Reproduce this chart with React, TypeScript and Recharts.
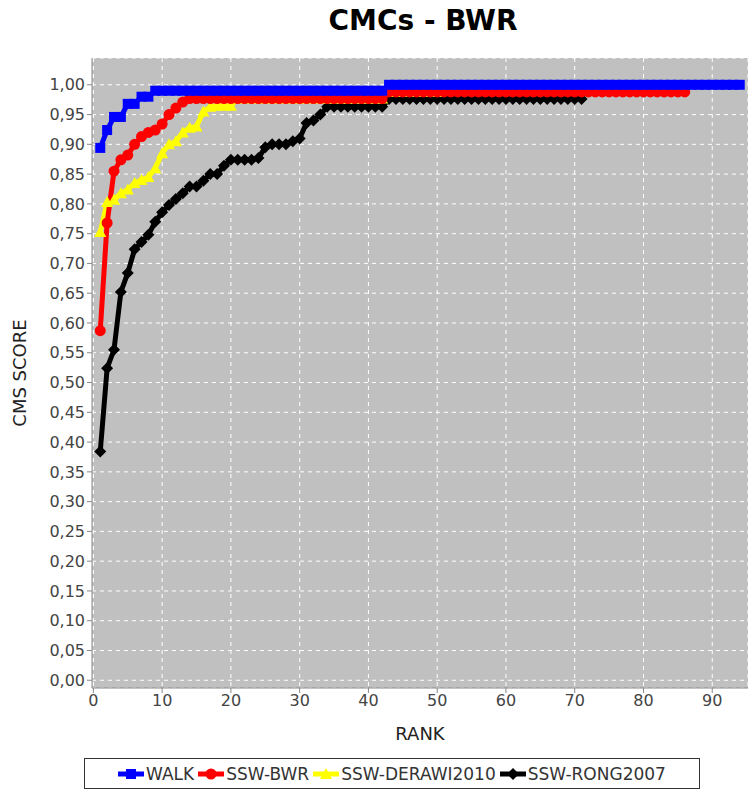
import React from 'react'
import { LineChart, Line, XAxis, YAxis, CartesianGrid } from 'recharts'

// CMC scores per rank
const walkScores = [
  0.894, 0.924, 0.946, 0.946, 0.968, 0.968, 0.98, 0.98,
  0.99, 0.99, 0.99, 0.99, 0.99, 0.99, 0.99, 0.99, 0.99, 0.99, 0.99, 0.99, 0.99, 0.99, 0.99, 0.99, 0.99,
  0.99, 0.99, 0.99, 0.99, 0.99, 0.99, 0.99, 0.99, 0.99, 0.99, 0.99, 0.99, 0.99, 0.99, 0.99, 0.99, 0.99,
  1, 1, 1, 1, 1, 1, 1, 1, 1, 1, 1, 1, 1, 1, 1, 1, 1, 1, 1, 1, 1, 1, 1, 1, 1, 1,
  1, 1, 1, 1, 1, 1, 1, 1, 1, 1, 1, 1, 1, 1, 1, 1, 1, 1, 1, 1, 1, 1, 1, 1, 1, 1,
]

const bwrScores = [
  0.587, 0.768, 0.855, 0.874, 0.882, 0.9, 0.913, 0.92, 0.924, 0.934, 0.95, 0.961, 0.971, 0.977,
  0.977, 0.977, 0.977, 0.977, 0.977, 0.977, 0.977, 0.977, 0.977, 0.977, 0.977, 0.977, 0.977, 0.977,
  0.977, 0.977, 0.977, 0.977, 0.977, 0.977, 0.977, 0.977, 0.977, 0.977, 0.977, 0.977, 0.977, 0.977,
  0.988, 0.988, 0.988, 0.988, 0.988, 0.988, 0.988, 0.988, 0.988, 0.988, 0.988, 0.988, 0.988, 0.988,
  0.988, 0.988, 0.988, 0.988, 0.988, 0.988, 0.988, 0.988, 0.988, 0.988, 0.988, 0.988, 0.988, 0.988,
  0.988, 0.988, 0.988, 0.988, 0.988, 0.988, 0.988, 0.988, 0.988, 0.988, 0.988, 0.988, 0.988, 0.988,
  0.988, 0.988,
]

const derawiScores = [
  0.753, 0.803, 0.807, 0.818, 0.824, 0.835, 0.84, 0.845, 0.86, 0.885,
  0.9, 0.905, 0.92, 0.928, 0.93, 0.955, 0.963, 0.965, 0.965, 0.965,
  0.977, 0.977, 0.977, 0.977, 0.977, 0.977, 0.977, 0.977, 0.977, 0.977, 0.977,
  0.977, 0.977, 0.977, 0.977, 0.977, 0.977, 0.977, 0.977, 0.977, 0.977, 0.977,
  0.988, 0.988, 0.988, 0.988, 0.988, 0.988, 0.988, 0.988,
]

const rongScores = [
  0.384, 0.524, 0.555, 0.652, 0.684, 0.724, 0.736, 0.748, 0.77, 0.786,
  0.798, 0.808, 0.818, 0.829, 0.829, 0.839, 0.85, 0.85, 0.864, 0.874,
  0.874, 0.874, 0.874, 0.877, 0.895, 0.9, 0.9, 0.9, 0.905, 0.91,
  0.936, 0.94, 0.95, 0.963, 0.963, 0.963, 0.963, 0.963, 0.963, 0.963, 0.963, 0.963,
  0.976, 0.976, 0.976, 0.976, 0.976, 0.976, 0.976, 0.976, 0.976, 0.976,
  0.976, 0.976, 0.976, 0.976, 0.976, 0.976, 0.976, 0.976, 0.976, 0.976,
  0.976, 0.976, 0.976, 0.976, 0.976, 0.976, 0.976, 0.976, 0.976,
]

const xTicks = [0, 10, 20, 30, 40, 50, 60, 70, 80, 90]
const yTicks = [
  0, 0.05, 0.1, 0.15, 0.2, 0.25, 0.3, 0.35, 0.4, 0.45, 0.5,
  0.55, 0.6, 0.65, 0.7, 0.75, 0.8, 0.85, 0.9, 0.95, 1,
]

const toRows = (scores: number[]) => scores.map((score, i) => ({ rank: i + 1, score }))

const FONT = '"DejaVu Sans", Verdana, sans-serif'

type Shape = 'square' | 'circle' | 'triangle' | 'diamond'

const marker = (shape: Shape, x: number, y: number, color: string, key?: string) => {
  if (shape === 'square') return <rect key={key} x={x - 5} y={y - 5} width={10} height={10} fill={color} />
  if (shape === 'circle') return <circle key={key} cx={x} cy={y} r={5.5} fill={color} />
  if (shape === 'triangle')
    return <polygon key={key} points={`${x},${y - 6} ${x + 6},${y + 5} ${x - 6},${y + 5}`} fill={color} />
  return <polygon key={key} points={`${x},${y - 6} ${x + 6},${y} ${x},${y + 6} ${x - 6},${y}`} fill={color} />
}

const dotFor = (shape: Shape, color: string) => (props: any) => {
  const { cx, cy, index } = props
  return marker(shape, cx, cy, color, `${shape}-${index}`)
}

const series = [
  { name: 'WALK', color: '#0000ff', shape: 'square' as Shape, data: toRows(walkScores) },
  { name: 'SSW-BWR', color: '#ff0000', shape: 'circle' as Shape, data: toRows(bwrScores) },
  { name: 'SSW-DERAWI2010', color: '#ffff00', shape: 'triangle' as Shape, data: toRows(derawiScores) },
  { name: 'SSW-RONG2007', color: '#000000', shape: 'diamond' as Shape, data: toRows(rongScores) },
]

const YLabel = (props: any) => {
  const { viewBox } = props
  const cy = viewBox.y + viewBox.height / 2
  return (
    <text x={19} y={cy} transform={`rotate(-90, 19, ${cy})`} textAnchor="middle" dominantBaseline="central"
      fontSize={18} fontFamily={FONT} fill="#222">
      CMS SCORE
    </text>
  )
}

const App: React.FC = () => {
  return (
    <div style={{ position: 'relative', width: 756, height: 795, background: '#fff', fontFamily: FONT }}>
      <style>{'body{margin:0}'}</style>
      <div style={{ position: 'absolute', left: 95, width: 656, top: 4, textAlign: 'center', fontSize: 28, fontWeight: 'bold', color: '#000' }}>
        CMCs - BWR
      </div>
      <LineChart width={756} height={750} margin={{ top: 58, right: 8, left: 0, bottom: 6 }}>
        <CartesianGrid fill="#c0c0c0" stroke="#ffffff" strokeDasharray="4 4" strokeWidth={1} />
        <XAxis type="number" dataKey="rank" domain={[-0.2, 95.2]} ticks={xTicks} allowDataOverflow
          height={56} tick={{ fill: '#444', fontSize: 16, fontFamily: FONT }} tickSize={5}
          stroke="#888" label={{ value: 'RANK', position: 'insideBottom', offset: 4, fontSize: 18, fill: '#222', fontFamily: FONT }} />
        <YAxis type="number" domain={[-0.013, 1.045]} ticks={yTicks} allowDataOverflow width={92}
          tickFormatter={(v: number) => v.toFixed(2).replace('.', ',')}
          tick={{ fill: '#444', fontSize: 16, fontFamily: FONT }} tickSize={5} stroke="#888"
          label={<YLabel />} />
        {[...series].reverse().map((s) => (
          <Line key={s.name} data={s.data} dataKey="score" name={s.name} type="linear"
            stroke={s.color} strokeWidth={5} dot={dotFor(s.shape, s.color)} activeDot={false}
            isAnimationActive={false} />
        ))}
      </LineChart>
      <div style={{
        position: 'absolute', left: 84, top: 758, width: 614, height: 29, border: '1px solid #333',
        display: 'flex', alignItems: 'center', justifyContent: 'center', gap: 4, fontSize: 17, color: '#333',
      }}>
        {series.map((s) => (
          <span key={s.name} style={{ display: 'flex', alignItems: 'center' }}>
            <svg width={26} height={14}>
              <line x1={0} y1={7} x2={26} y2={7} stroke={s.color} strokeWidth={5} />
              {marker(s.shape, 13, 7, s.color)}
            </svg>
            <span style={{ marginLeft: 2 }}>{s.name}</span>
          </span>
        ))}
      </div>
    </div>
  )
}

export default App
